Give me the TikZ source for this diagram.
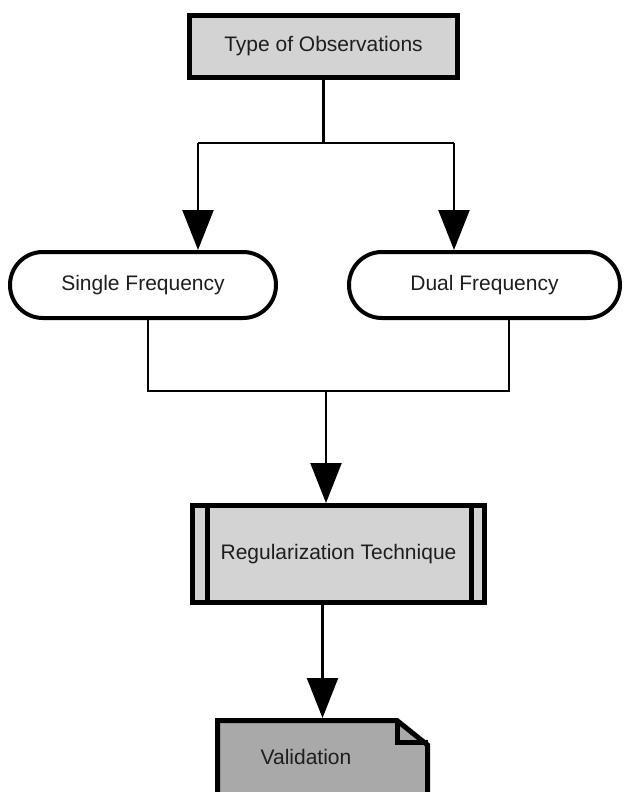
\documentclass[tikz,border=0pt]{standalone}
\usepackage{fontspec}
\setmainfont{Liberation Sans}
\usetikzlibrary{arrows.meta,calc}
\definecolor{lightfill}{HTML}{D3D3D3}
\definecolor{darkfill}{HTML}{A9A9A9}
\definecolor{txt}{HTML}{1E1E1E}
\tikzset{
  every node/.style={font=\fontsize{21}{25}\selectfont, text=txt, inner sep=0pt},
  procbox/.style={draw=black, line width=5pt, fill=lightfill},
  pill/.style={draw=black, line width=4pt, fill=white, rounded corners=32.9pt},
  conn/.style={draw=black, line width=2.3pt},
  arr/.style={conn, -{Triangle[width=31pt,length=40pt]}},
}
\begin{document}
\begin{tikzpicture}[x=1pt,y=-1pt]
\useasboundingbox (0,0) rectangle (625,792);

% nodes
\node[procbox, minimum width=268pt, minimum height=62pt] (top) at (323.5,46.5) {Type of Observations};
\node[pill, minimum width=266pt, minimum height=66pt] (single) at (143,285) {Single Frequency};
\node[pill, minimum width=271pt, minimum height=66pt] (dual) at (484.5,285) {Dual Frequency};
\node[procbox, minimum width=292pt, minimum height=97pt] (reg) at (338.5,554) {Regularization Technique};
\draw[line width=5pt] ([xshift=17.5pt]reg.north west) -- ([xshift=17.5pt]reg.south west);
\draw[line width=5pt] ([xshift=-16pt]reg.north east) -- ([xshift=-16pt]reg.south east);

% validation document shape
\node[minimum width=215pt, minimum height=82pt, anchor=north] (val) at (322.5,718) {};
\draw[line width=5pt, fill=darkfill, line join=miter]
  (217.5,810) -- (217.5,720.5) -- (397,720.5) -- (427.5,745) -- (427.5,810);
\draw[line width=5pt, line join=miter] (397,720.5) -- (397,742.5) -- (427.5,742.5);
\node (valtext) at (306,757) {Validation};

% connectors top -> frequencies
\coordinate (a1) at (198,143);
\coordinate (a2) at (454,143);
\draw[conn] (top.south) -- (top.south |- a1);
\draw[conn] (a1) -- (a2);
\draw[arr] (a1) -- (a1 |- single.north);
\draw[arr] (a2) -- (a2 |- dual.north);

% frequencies -> regularization
\coordinate (b1) at (148,391);
\coordinate (b2) at (509,391);
\coordinate (b3) at (326,391);
\draw[conn] (b1 |- single.south) -- (b1) -- (b2) -- (b2 |- dual.south);
\draw[arr] (b3) -- (b3 |- reg.north);

% regularization -> validation
\draw[arr] (reg.south -| val.north) -- (val.north);
\end{tikzpicture}
\end{document}
